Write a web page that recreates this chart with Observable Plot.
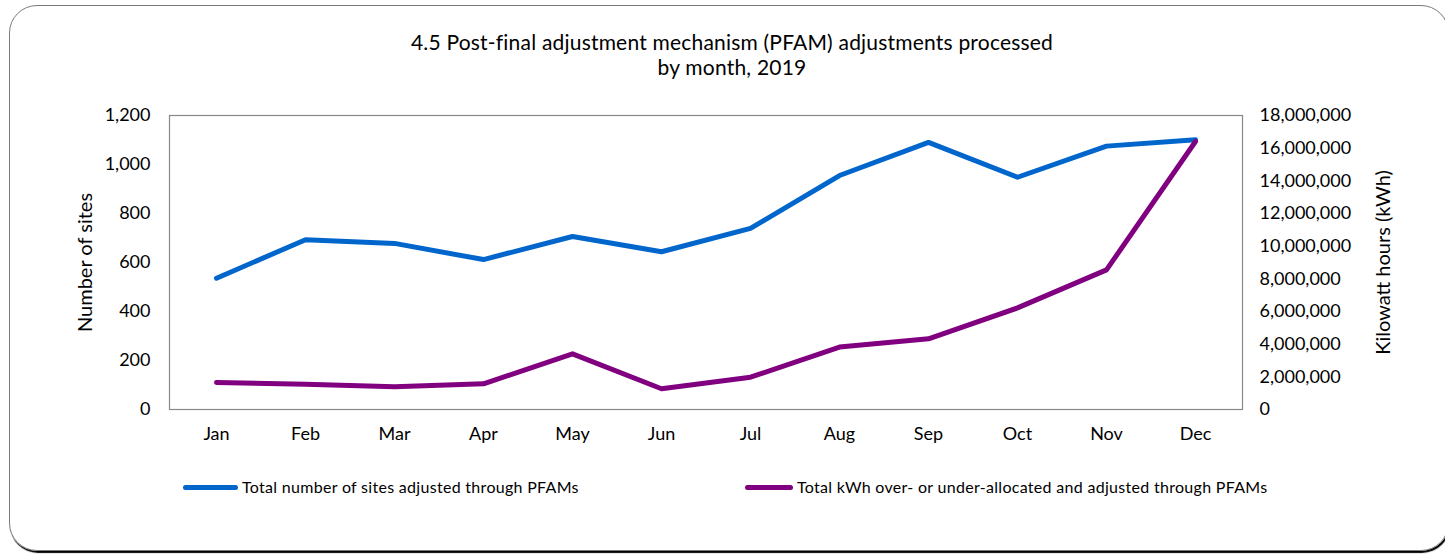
<!DOCTYPE html>
<html>
<head>
<meta charset="utf-8">
<script src="https://cdn.jsdelivr.net/npm/d3@7"></script>
<script src="https://cdn.jsdelivr.net/npm/@observablehq/plot@0.6"></script>
<style>
  html, body { margin: 0; padding: 0; background: #fff; }
  body { width: 1445px; height: 556px; position: relative; overflow: hidden; font-family: Lato, "Noto Sans", sans-serif; color: #000; }
  #border { position: absolute; left: 9px; top: 5px; width: 1440px; height: 546px; border: 1px solid #7a7a7a; border-radius: 28px; box-shadow: 1px 2px 1px #000; box-sizing: border-box; }
  #chart { position: absolute; left: 0; top: 0; }
  #title { position: absolute; left: 382px; width: 700px; top: 29px; text-align: center; font-size: 21px; line-height: 25px; letter-spacing: 0.2px; }
  .leg { position: absolute; top: 477px; font-size: 16px; line-height: 19px; white-space: nowrap; letter-spacing: 0.3px; }
  .sw { display: inline-block; vertical-align: middle; height: 5px; border-radius: 3px; margin-right: 4px; position: relative; top: -1px; }
</style>
</head>
<body>
<div id="border"></div>
<div id="chart"></div>
<div id="title">4.5 Post-final adjustment mechanism (PFAM) adjustments processed<br>by month, 2019</div>
<div id="legend"></div>
<script>
const months = ["Jan","Feb","Mar","Apr","May","Jun","Jul","Aug","Sep","Oct","Nov","Dec"];
const sites = [536, 693, 678, 612, 706, 644, 739, 955, 1090, 948, 1075, 1101];
const kwh = [1650000, 1550000, 1390000, 1570000, 3410000, 1270000, 1980000, 3820000, 4330000, 6220000, 8550000, 16410000];
const leftTicks = [0, 200, 400, 600, 800, 1000, 1200];
const rightTicks = [0, 2000000, 4000000, 6000000, 8000000, 10000000, 12000000, 14000000, 16000000, 18000000];
const seriesNames = ["Total number of sites adjusted through PFAMs", "Total kWh over- or under-allocated and adjusted through PFAMs"];
const seriesColors = ["#0066cc", "#800080"];
const leftLabel = "Number of sites";
const rightLabel = "Kilowatt hours (kWh)";

const leftMax = 1200, rightMax = 18000000;
const k = leftMax / rightMax;

const siteData = months.map((m, i) => ({month: m, value: sites[i]}));
const kwhData = months.map((m, i) => ({month: m, value: kwh[i] * k}));
const fmt = d3.format(",");

const plot = Plot.plot({
  width: 1445,
  height: 556,
  marginLeft: 169,
  marginRight: 203,
  marginTop: 115,
  marginBottom: 147,
  style: {fontFamily: "Lato, 'Noto Sans', sans-serif", fontSize: "18px", color: "#000", background: "transparent"},
  x: {type: "point", domain: months, padding: 0.5},
  y: {domain: [0, leftMax]},
  marks: [
    Plot.frame({stroke: "#888", strokeWidth: 1.2}),
    Plot.axisX({tickSize: 0, tickPadding: 18, label: null, fontSize: 18}),
    Plot.axisY({anchor: "left", ticks: leftTicks, tickFormat: fmt, tickSize: 0, tickPadding: 19, label: null, fontSize: 18}),
    Plot.axisY({anchor: "right", ticks: rightTicks.map(v => v * k), tickFormat: d => fmt(Math.round(d / k)), tickSize: 0, tickPadding: 17, label: null, fontSize: 18}),
    Plot.text([leftLabel], {text: d => d, frameAnchor: "left", textAnchor: "middle", lineAnchor: "middle", rotate: -90, dx: -84, fontSize: 20, fill: "#000"}),
    Plot.text([rightLabel], {text: d => d, frameAnchor: "right", textAnchor: "middle", lineAnchor: "middle", rotate: -90, dx: 141, fontSize: 20, fill: "#000"}),
    Plot.line(siteData, {x: "month", y: "value", stroke: seriesColors[0], strokeWidth: 5, strokeLinecap: "round", strokeLinejoin: "round"}),
    Plot.line(kwhData, {x: "month", y: "value", stroke: seriesColors[1], strokeWidth: 5, strokeLinecap: "round", strokeLinejoin: "round"})
  ]
});
document.getElementById("chart").appendChild(plot);

const legend = document.getElementById("legend");
const legPos = [{left: 183, w: 55}, {left: 745, w: 48}];
seriesNames.forEach((name, i) => {
  const d = document.createElement("div");
  d.className = "leg";
  d.style.left = legPos[i].left + "px";
  const sw = document.createElement("span");
  sw.className = "sw";
  sw.style.width = legPos[i].w + "px";
  sw.style.background = seriesColors[i];
  d.appendChild(sw);
  d.appendChild(document.createTextNode(name));
  legend.appendChild(d);
});
</script>
</body>
</html>
